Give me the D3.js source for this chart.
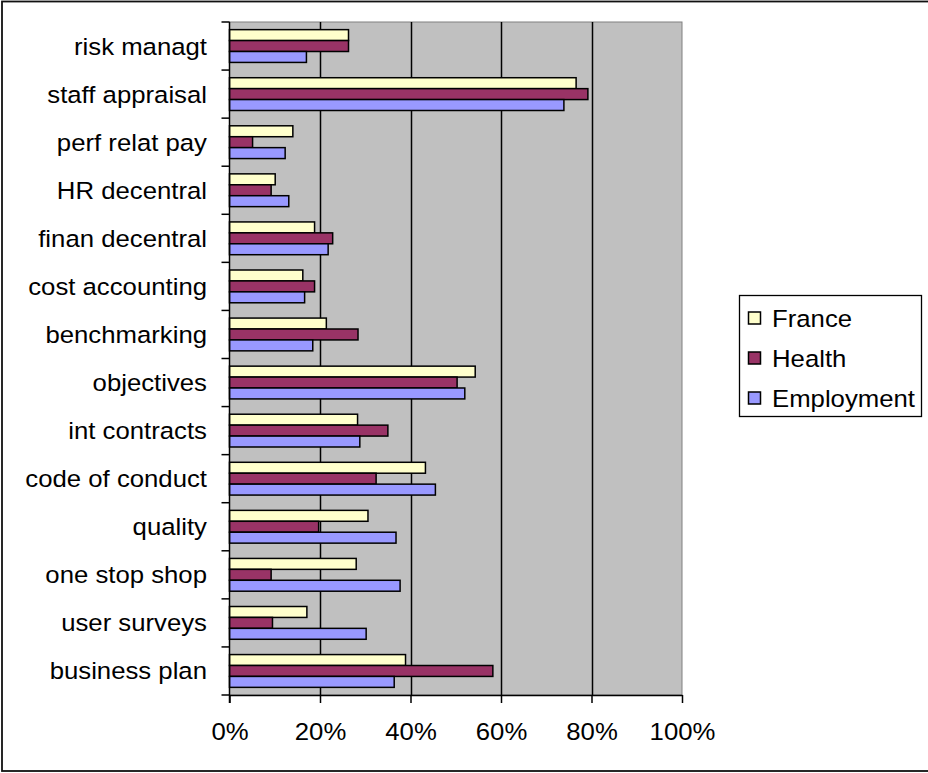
<!DOCTYPE html>
<html>
<head>
<meta charset="utf-8">
<script src="https://cdn.jsdelivr.net/npm/d3@7"></script>
<style>
  html, body { margin: 0; padding: 0; background: #fff; }
  svg { display: block; }
  text { font-family: "Liberation Sans", Arial, sans-serif; fill: #000; }
</style>
</head>
<body>
<svg id="chart" width="928" height="773"></svg>
<script>
// Categories listed top to bottom as displayed
const categories = ["risk managt", "staff appraisal", "perf relat pay", "HR decentral",
  "finan decentral", "cost accounting", "benchmarking", "objectives", "int contracts",
  "code of conduct", "quality", "one stop shop", "user surveys", "business plan"];
const seriesNames = ["France", "Health", "Employment"];
const france     = [26.3, 76.6, 14.0, 10.1, 18.8, 16.2, 21.4, 54.3, 28.3, 43.3, 30.6, 28.0, 17.1, 38.9];
const health     = [26.3, 79.2,  5.1,  9.2, 22.8, 18.8, 28.4, 50.3, 35.0, 32.4, 19.7,  9.2,  9.5, 58.2];
const employment = [17.0, 73.9, 12.3, 13.1, 21.8, 16.6, 18.4, 52.0, 28.8, 45.5, 36.8, 37.7, 30.2, 36.4];
const seriesColors = ["#FFFFCC", "#993366", "#9999FF"];
const xTicks = [0, 20, 40, 60, 80, 100];

const FONT = "24.5px";
const STRETCH = 1.05;
const seriesValues = [france, health, employment];
const svg = d3.select("#chart");

// Outer frame
svg.append("rect").attr("x", 2).attr("y", 1.5).attr("width", 960).attr("height", 769.5)
  .attr("fill", "none").attr("stroke", "#111").attr("stroke-width", 1.8);

const plot = {left: 229.5, right: 682, top: 22, bottom: 695};
const x = d3.scaleLinear().domain([0, 100]).range([plot.left, plot.right]);
const y = d3.scaleBand().domain(categories).range([plot.top, plot.bottom]).padding(0);
const ySub = d3.scaleBand().domain(seriesNames).range([0, y.bandwidth()])
  .paddingInner(0).paddingOuter(0.7);

// Plot area
svg.append("rect").attr("x", plot.left).attr("y", plot.top)
  .attr("width", plot.right - plot.left).attr("height", plot.bottom - plot.top)
  .attr("fill", "#C0C0C0").attr("stroke", "#808080").attr("stroke-width", 1);

// Gridlines
svg.append("g").selectAll("line").data(xTicks.filter(t => t > 0 && t < 100)).join("line")
  .attr("x1", d => Math.round(x(d)) + 0.5).attr("x2", d => Math.round(x(d)) + 0.5)
  .attr("y1", plot.top).attr("y2", plot.bottom)
  .attr("stroke", "#000").attr("stroke-width", 1.5);

// Bars
const rows = categories.map((c, i) => ({c, vals: seriesNames.map((s, j) => ({s, j, v: seriesValues[j][i]}))}));
const groups = svg.append("g").selectAll("g").data(rows).join("g")
  .attr("transform", d => `translate(0,${y(d.c)})`);
groups.selectAll("rect").data(d => d.vals).join("rect")
  .attr("x", x(0))
  .attr("y", d => ySub(d.s))
  .attr("width", d => x(d.v) - x(0))
  .attr("height", ySub.bandwidth())
  .attr("fill", d => seriesColors[d.j])
  .attr("stroke", "#000").attr("stroke-width", 1.5);

// Bottom axis
const xAxis = d3.axisBottom(x).tickValues(xTicks).tickFormat(d => d + "%")
  .tickSizeInner(8).tickSizeOuter(0).tickPadding(20);
const gx = svg.append("g").attr("transform", `translate(0,${plot.bottom})`).call(xAxis);
gx.select(".domain").attr("stroke", "#000").attr("stroke-width", 1.5);
gx.selectAll(".tick line").attr("stroke", "#000").attr("stroke-width", 1.5);
gx.selectAll("text").style("font-size", FONT).style("font-family", "'Liberation Sans', Arial, sans-serif").attr("fill", "#000");

// Left axis: line plus ticks at category boundaries
svg.append("line").attr("x1", plot.left).attr("x2", plot.left)
  .attr("y1", plot.top).attr("y2", plot.bottom + 8)
  .attr("stroke", "#000").attr("stroke-width", 1.5);
const boundaries = categories.map(c => y(c)).concat([plot.bottom]);
svg.append("g").selectAll("line").data(boundaries).join("line")
  .attr("x1", plot.left - 8).attr("x2", plot.left)
  .attr("y1", d => d).attr("y2", d => d)
  .attr("stroke", "#000").attr("stroke-width", 1.5);
svg.append("g").selectAll("text").data(categories).join("text")
  .attr("x", 207).attr("y", d => y(d) + y.bandwidth() / 2)
  .attr("text-anchor", "end").attr("dominant-baseline", "central")
  .style("font-size", FONT).text(d => d);

// Legend
const lg = svg.append("g");
lg.append("rect").attr("x", 739.5).attr("y", 295.5).attr("width", 182).attr("height", 121)
  .attr("fill", "#fff").attr("stroke", "#000").attr("stroke-width", 1.3);
const legY = d3.scalePoint().domain(seriesNames).range([318, 398]);
seriesNames.forEach((s, j) => {
  lg.append("rect").attr("x", 748.5).attr("y", legY(s) - 6).attr("width", 12).attr("height", 12)
    .attr("fill", seriesColors[j]).attr("stroke", "#000").attr("stroke-width", 1.5);
  lg.append("text").attr("x", 772).attr("y", legY(s)).attr("dominant-baseline", "central")
    .style("font-size", FONT).text(s);
});

// Slight horizontal widening of all text to match the reference glyph widths
svg.selectAll("text").each(function() {
  const w = this.getComputedTextLength();
  d3.select(this).attr("textLength", w * STRETCH).attr("lengthAdjust", "spacingAndGlyphs");
});
</script>
</body>
</html>
